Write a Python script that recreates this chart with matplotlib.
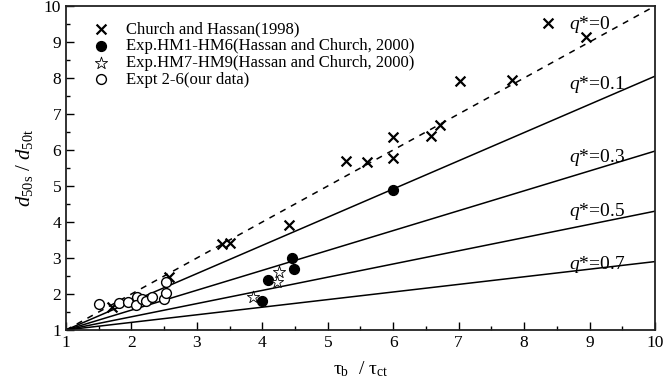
import numpy as np
import matplotlib
matplotlib.use('Agg')
from matplotlib import pyplot as plt

plt.rcParams['font.family'] = ['Liberation Serif', 'DejaVu Serif']
plt.rcParams['mathtext.fontset'] = 'custom'
plt.rcParams['mathtext.rm'] = 'Liberation Serif'
plt.rcParams['mathtext.it'] = 'Liberation Serif:italic'

# Church and Hassan (1998)
ch_x = [1.71, 2.57, 3.38, 3.50, 4.40, 5.28, 5.60, 6.00, 6.00, 6.57, 6.72, 7.02, 7.81, 8.37, 8.95]
ch_y = [1.65, 2.46, 3.40, 3.42, 3.92, 5.70, 5.68, 5.79, 6.37, 6.40, 6.69, 7.92, 7.94, 9.54, 9.13]
# Exp. HM1-HM6
hm16_x = [4.00, 4.09, 4.46, 4.49, 6.00]
hm16_y = [1.80, 2.39, 2.99, 2.69, 4.90]
# Exp. HM7-HM9
hm79_x = [3.86, 4.23, 4.26]
hm79_y = [1.91, 2.34, 2.62]
# Expt 2-6 (our data)
our_x = [1.50, 1.81, 1.94, 2.08, 2.07, 2.16, 2.22, 2.32, 2.50, 2.53, 2.53]
our_y = [1.72, 1.74, 1.79, 1.93, 1.69, 1.85, 1.80, 1.93, 1.86, 2.04, 2.34]

# reference lines, value of d50s/d50t reached at tau ratio = 10
q_vals = ['0', '0.1', '0.3', '0.5', '0.7']
q_end = [10.0, 8.05, 5.97, 4.30, 2.90]
q_label_y = [9.5, 7.83, 5.8, 4.28, 2.83]

fig = plt.figure(figsize=(6.64, 3.85), dpi=100)
ax = fig.add_axes([0.0994, 0.1429, 0.887, 0.8415])

xs = np.array([1.0, 10.0])
for i, (q, e) in enumerate(zip(q_vals, q_end)):
    ys = 1 + (e - 1) * (xs - 1) / 9.0
    ls = (0, (4, 4)) if i == 0 else '-'
    ax.plot(xs, ys, color='black', lw=1.1, ls=ls, zorder=1)
    ax.text(8.68, q_label_y[i], r'$q$*=' + q, fontsize=14, va='center', ha='left')

ax.scatter(ch_x, ch_y, marker='x', s=50, color='black', linewidths=1.6,
           label='Church and Hassan(1998)', zorder=3)
ax.scatter(hm16_x, hm16_y, marker='o', s=50, color='black',
           label='Exp.HM1-HM6(Hassan and Church, 2000)', zorder=3)
ax.scatter(hm79_x, hm79_y, marker='*', s=85, facecolor='white', edgecolor='black',
           linewidths=0.6, label='Exp.HM7-HM9(Hassan and Church, 2000)', zorder=3)
ax.scatter(our_x, our_y, marker='o', s=50, facecolor='white', edgecolor='black',
           linewidths=1.0, label='Expt 2-6(our data)', zorder=3)

ax.set_xlim(1, 10)
ax.set_ylim(1, 10)
ax.set_xticks(range(1, 11))
ax.set_yticks(range(1, 11))
ax.set_xticks(np.arange(1.5, 10, 1), minor=True)
ax.set_yticks(np.arange(1.5, 10, 1), minor=True)
ax.tick_params(which='both', direction='in', top=False, right=False, labelsize=12.5, width=1.0)
ax.tick_params(which='major', length=6)
ax.tick_params(which='minor', length=3)
for s in ax.spines.values():
    s.set_linewidth(1.3)
    s.set_color('#222222')

ax.set_xlabel(r'$\mathrm{\tau_b}$  / $\mathrm{\tau_{ct}}$', fontsize=14, labelpad=6)
ax.set_ylabel(r'$d_{\mathrm{50s}}$ / $d_{\mathrm{50t}}$', fontsize=15, labelpad=6)

leg = ax.legend(loc='upper left', bbox_to_anchor=(0.02, 0.972), frameon=False,
                fontsize=12, handletextpad=0.5, labelspacing=0.04,
                borderaxespad=0, scatterpoints=1)

fig.savefig('out.png', dpi=100)
